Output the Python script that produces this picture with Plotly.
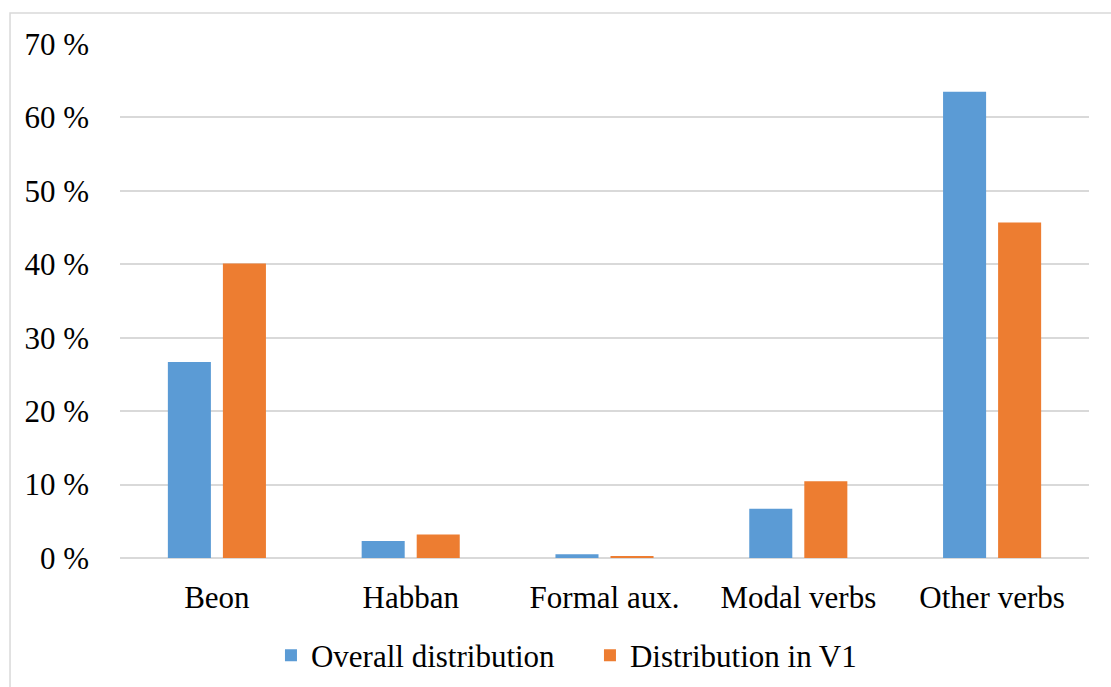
import plotly.graph_objects as go

categories = ["Beon", "Habban", "Formal aux.", "Modal verbs", "Other verbs"]
overall = [26.7, 2.3, 0.5, 6.7, 63.5]
in_v1 = [40.1, 3.2, 0.2, 10.45, 45.7]
y_ticks = [0, 10, 20, 30, 40, 50, 60, 70]
y_tick_labels = [f"{v} %" for v in y_ticks]

BLUE = "#5b9bd5"
ORANGE = "#ed7d31"
GRID = "#d9d9d9"
FONT = "Liberation Serif"
SIZE = 31

fig = go.Figure()
fig.add_trace(go.Bar(name="Overall distribution", x=categories, y=overall,
                     marker=dict(color=BLUE, line=dict(width=0))))
fig.add_trace(go.Bar(name="Distribution in V1", x=categories, y=in_v1,
                     marker=dict(color=ORANGE, line=dict(width=0))))

fig.update_layout(
    width=1111, height=687,
    margin=dict(l=120, r=22, t=44, b=129, autoexpand=False),
    paper_bgcolor="white", plot_bgcolor="white",
    barmode="group", bargap=0.432, bargroupgap=0.218,
    font=dict(family=FONT, size=SIZE, color="#000000"),
    showlegend=True,
    legend=dict(orientation="h", x=0.485, xanchor="center", y=-0.19, yanchor="middle",
                font=dict(family=FONT, size=SIZE), itemwidth=30,
                entrywidth=274, entrywidthmode="pixels",
                traceorder="normal"),
    shapes=[dict(type="rect", xref="paper", yref="paper",
                 x0=-0.1135, x1=1.2, y0=-0.5, y1=1.0603,
                 line=dict(color=GRID, width=1.5), fillcolor="rgba(0,0,0,0)", layer="below")],
)

fig.update_xaxes(showgrid=False, showline=False, zeroline=False, ticks="",
                 automargin=False,
                 tickfont=dict(family=FONT, size=SIZE), ticklabelstandoff=18)
fig.update_yaxes(range=[0, 70], tickvals=y_ticks, ticktext=y_tick_labels,
                 automargin=False,
                 showgrid=True, gridcolor=GRID, gridwidth=1.5,
                 zeroline=True, zerolinecolor=GRID, zerolinewidth=1.5,
                 showline=False, ticks="", tickfont=dict(family=FONT, size=SIZE),
                 ticklabelstandoff=30)

fig.write_html("out.html")
